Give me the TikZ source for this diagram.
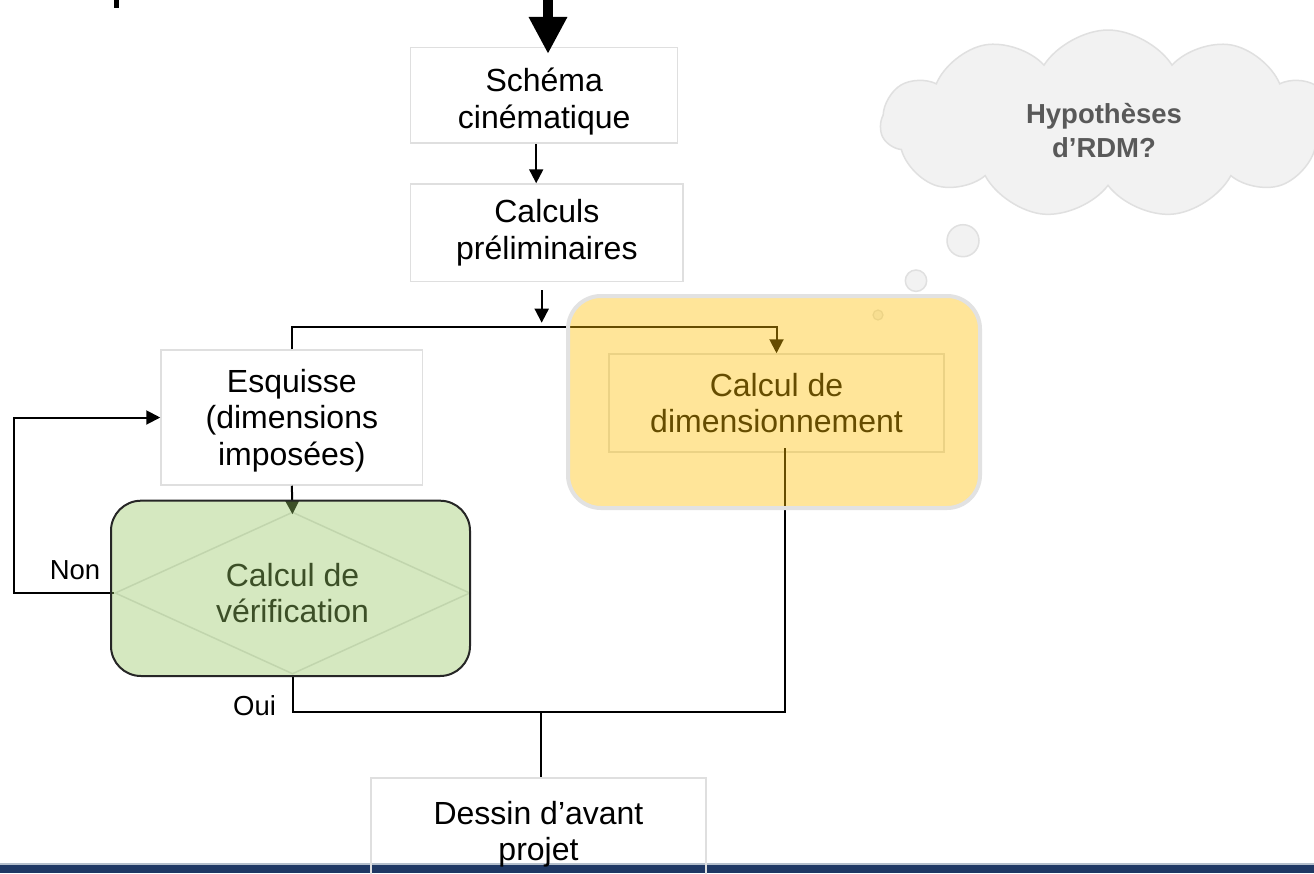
\documentclass[tikz,border=0pt]{standalone}
\usepackage{fontspec}
\setmainfont{Liberation Sans}
\usetikzlibrary{arrows.meta,shapes.geometric,shapes.symbols,calc}

\definecolor{boxline}{HTML}{DFDFDF}
\definecolor{cloudfill}{HTML}{F2F2F2}
\definecolor{cloudline}{HTML}{E0E0E0}
\definecolor{cloudtext}{HTML}{595959}
\definecolor{gold}{HTML}{FFC000}
\definecolor{leaf}{HTML}{96C662}
\definecolor{navy}{HTML}{1F3864}
\definecolor{barline}{HTML}{B4BFCC}
\definecolor{hlborder}{HTML}{E2E2E2}

\newcommand\flowfont{\fontsize{32}{36.5}\selectfont}
\newcommand\labelfont{\fontsize{27.5}{32}\selectfont}
\newcommand\thoughtfont{\fontsize{27.5}{34}\selectfont\bfseries}

\begin{document}
\begin{tikzpicture}[x=1pt,y=-1pt,
  flowbox/.style={draw=boxline, line width=1.5pt, fill=white, align=center,
    inner sep=0pt, font=\flowfont},
  conn/.style={draw=black, line width=2pt},
  arr/.style={conn, -{Triangle[length=14pt,width=14pt]}},
  bigarrow/.style={draw=black, line width=10pt, -{Triangle[length=37pt,width=36pt]}},
  lbl/.style={font=\labelfont, inner sep=0pt},
  bubble/.style={circle, fill=cloudfill, draw=cloudline, line width=1.5pt, inner sep=0pt},
  hlgreen/.style={rectangle, rounded corners=30pt, fill=leaf, fill opacity=0.4,
    draw=black!85, line width=2pt, inner sep=0pt},
  hlgold/.style={rectangle, rounded corners=33pt, fill=gold, fill opacity=0.4,
    draw=hlborder, line width=4pt, inner sep=0pt}
]
\clip (0,0) rectangle (1314,873);
\fill[white] (0,0) rectangle (1314,873);

% small mark in the upper left corner
\fill[black] (114,0) rectangle (119,8);

% thought cloud and its bubbles
\node[cloud, cloud puffs=11, cloud puff arc=115, cloud ignores aspect,
  minimum width=455pt, minimum height=188pt, fill=cloudfill, draw=cloudline,
  line width=1.5pt] (thought) at (1108,124) {};
\node[font=\thoughtfont, text=cloudtext, align=center, inner sep=0pt]
  (thoughttext) at (1104,131) {Hypothèses\\d’RDM?};
\node[bubble, minimum size=32pt] (bubbleA) at (963,240.7) {};
\node[bubble, minimum size=21.4pt] (bubbleB) at (916,280.7) {};
\node[bubble, minimum size=10pt, line width=1.2pt] (bubbleC) at (878,315) {};

% process boxes
\node[flowbox, minimum width=267pt, minimum height=95.3pt, text height=72pt, text depth=6.7pt]
  (schema) at (544.2,95.35) {Schéma\\cinématique};
\node[flowbox, minimum width=272.3pt, minimum height=97.7pt] (calculs) at (546.85,232.85) {Calculs\\préliminaires};
\node[flowbox, minimum width=261.7pt, minimum height=135pt, text height=102pt, text depth=6.7pt]
  (esq) at (291.85,417.5) {Esquisse\\(dimensions\\imposées)};
\node[flowbox, minimum width=335pt, minimum height=98pt] (dim) at (776.5,403) {Calcul de\\dimensionnement};
\node[diamond, draw=boxline, line width=1.5pt, align=center, font=\flowfont,
  shape aspect=2.19, minimum width=355pt, minimum height=162pt, inner sep=0pt]
  (verif) at (292.5,593) {Calcul de\\vérification};

% connectors
\coordinate (src) at (548,0);
\coordinate (split) at (541.7,326.7);
\coordinate (loopx) at (14,0);
\coordinate (join) at (541,712);
\coordinate (dimout) at (785,448);

\draw[bigarrow] (src) -- ([yshift=-7pt]src |- schema.north);
\draw[arr] ([xshift=-8pt]schema.south) -- ([xshift=-8pt]schema.south |- calculs.north);
\draw[arr] ([yshift=-8pt]calculs.south -| split) -- ([yshift=4pt]split);
\draw[arr] (esq.north) -- (esq.north |- split) -- (dim.north |- split) -- (dim.north);
\draw[arr] (esq.south) -- ([yshift=-3pt]verif.north);
\draw[arr] (verif.west) -- (verif.west -| loopx) |- (esq.west);
\draw[conn] (verif.south) |- (join) -| (dimout);

\node[lbl] (non) at (75,570) {Non};
\node[lbl] (oui) at (254.5,706) {Oui};

% translucent highlight panels
\node[hlgreen, minimum width=359pt, minimum height=175.3pt] (checkzone) at (290.5,588.35) {};
\node[hlgold, minimum width=412pt, minimum height=212pt] (sizezone) at (774,402) {};

% footer band
\fill[barline] (0,863) rectangle (1314,865);
\fill[navy] (0,865) rectangle (1314,873);

\node[flowbox, fill=none, minimum width=335pt, minimum height=112pt] (dessin) at (538.5,834) {Dessin d’avant\\projet};
\draw[conn] (join) -- (join |- dessin.north);
\end{tikzpicture}
\end{document}
